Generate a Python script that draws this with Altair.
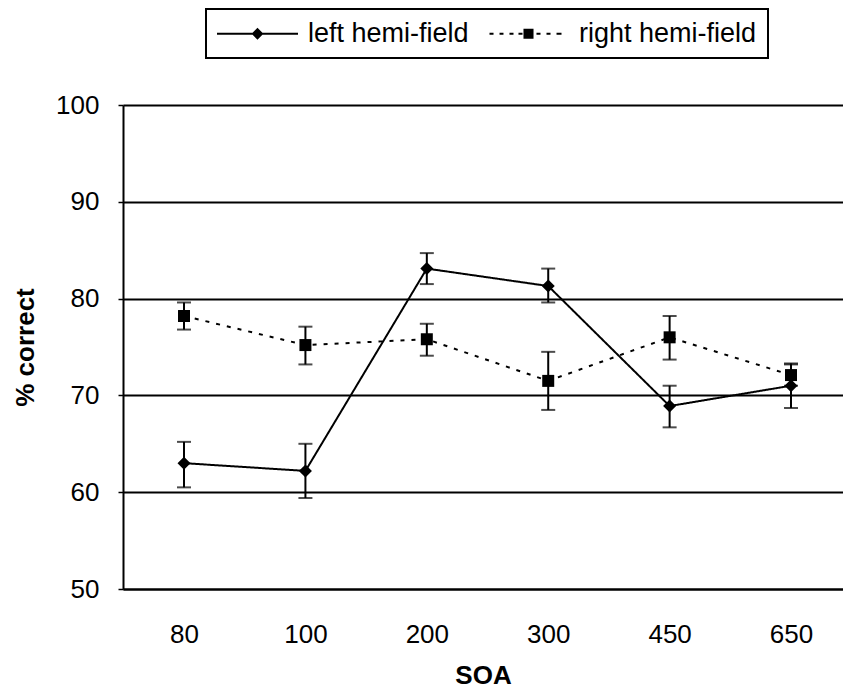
import altair as alt
import pandas as pd

soa = ["80", "100", "200", "300", "450", "650"]
series = ["left hemi-field", "right hemi-field"]
left_mean = [63.0, 62.2, 83.1, 81.3, 68.9, 71.0]
left_lo = [60.5, 59.4, 81.5, 79.6, 66.7, 68.7]
left_hi = [65.2, 65.0, 84.7, 83.1, 71.0, 73.3]
right_mean = [78.2, 75.2, 75.8, 71.5, 76.0, 72.1]
right_lo = [76.8, 73.2, 74.1, 68.5, 73.7, 71.0]
right_hi = [79.6, 77.1, 77.4, 74.5, 78.2, 73.2]

rows = []
for i, s in enumerate(soa):
    rows.append({"soa": s, "series": series[0], "mean": left_mean[i], "lo": left_lo[i], "hi": left_hi[i]})
    rows.append({"soa": s, "series": series[1], "mean": right_mean[i], "lo": right_lo[i], "hi": right_hi[i]})
df = pd.DataFrame(rows)

FONT = "Liberation Sans"

x = alt.X("soa:N", sort=soa,
          scale=alt.Scale(type="point", padding=0.4654, align=0.54),
          axis=alt.Axis(title="SOA", labelAngle=0, ticks=False, tickSize=0, labelPadding=32,
                        domainColor="black", domainWidth=2, titlePadding=15))
y = alt.Y("mean:Q", scale=alt.Scale(domain=[50, 100], nice=False, zero=False),
          axis=alt.Axis(title="% correct", values=[50, 60, 70, 80, 90, 100],
                        grid=True, gridColor="black", gridWidth=2, gridOpacity=1,
                        tickSize=5, tickWidth=1.5, tickColor="black", labelPadding=19,
                        domainColor="black", domainWidth=2, titlePadding=17))

base = alt.Chart(df)

err_rule = base.mark_rule(color="black", strokeWidth=2).encode(
    x=x, y=alt.Y("lo:Q"), y2="hi:Q")
cap_lo = base.mark_tick(color="black", thickness=2, size=14, orient="horizontal").encode(
    x=x, y=alt.Y("lo:Q"))
cap_hi = base.mark_tick(color="black", thickness=2, size=14, orient="horizontal").encode(
    x=x, y=alt.Y("hi:Q"))

lines = base.mark_line(color="black", strokeWidth=2).encode(
    x=x, y=y,
    strokeDash=alt.StrokeDash("series:N", scale=alt.Scale(domain=series, range=[[1, 0], [4, 7]]), legend=None),
    detail="series:N")

points = base.mark_point(filled=True, color="black", opacity=1).encode(
    x=x, y=y,
    shape=alt.Shape("series:N", scale=alt.Scale(domain=series, range=["diamond", "square"]), legend=None),
    size=alt.Size("series:N", scale=alt.Scale(domain=series, range=[170, 144]), legend=None))

# legend glyphs (line + marker), drawn with strokes only
left_sym = ("M-6.75,0L6.75,0M0,-0.75L0.75,0L0,0.75L-0.75,0Z"
            "M-0.25,-0.5L0.25,-0.5M-0.5,-0.25L0.5,-0.25"
            "M-0.5,0.25L0.5,0.25M-0.25,0.5L0.25,0.5")
right_sym = ("M-6.5,0L-5.83,0M-4.83,0L-4.17,0M-3.17,0L-2.5,0M-1.67,0L-1,0"
             "M-0.67,-0.67L0.67,-0.67L0.67,0.67L-0.67,0.67Z"
             "M-0.67,-0.33L0.67,-0.33M-0.67,0L0.67,0M-0.67,0.33L0.67,0.33"
             "M1.33,0L2,0M3,0L3.67,0M4.67,0L5.5,0")

legend_layer = base.transform_filter("false").mark_point(
    filled=False, color="black", strokeWidth=2, opacity=1).encode(
    x=x, y=y,
    shape=alt.Shape("series:N", scale=alt.Scale(domain=series, range=[left_sym, right_sym]),
                    legend=alt.Legend(title=None, orient="none", legendX=83, legendY=-96,
                                      direction="horizontal", strokeColor="black",
                                      padding=11, labelFontSize=27, labelFont=FONT,
                                      labelColor="black", labelLimit=400, symbolSize=144,
                                      symbolOffset=27, labelOffset=37, columnPadding=16,
                                      symbolStrokeWidth=2, symbolStrokeColor="black",
                                      symbolOpacity=1)))

chart = alt.layer(err_rule, cap_lo, cap_hi, lines, points, legend_layer).resolve_scale(
    shape="independent").resolve_legend(shape="independent").properties(
    width=720, height=484,
    autosize=alt.AutoSizeParams(type="none"),
    padding={"left": 123, "top": 105, "right": 0, "bottom": 102},
    background="white",
).configure_view(stroke=None).configure_axis(
    labelFont=FONT, labelFontSize=26, labelColor="black",
    titleFont=FONT, titleFontSize=26, titleFontWeight="bold", titleColor="black"
).configure_legend(strokeWidth=2)

chart.save("out.html", embed_options={"renderer": "svg", "actions": False})
